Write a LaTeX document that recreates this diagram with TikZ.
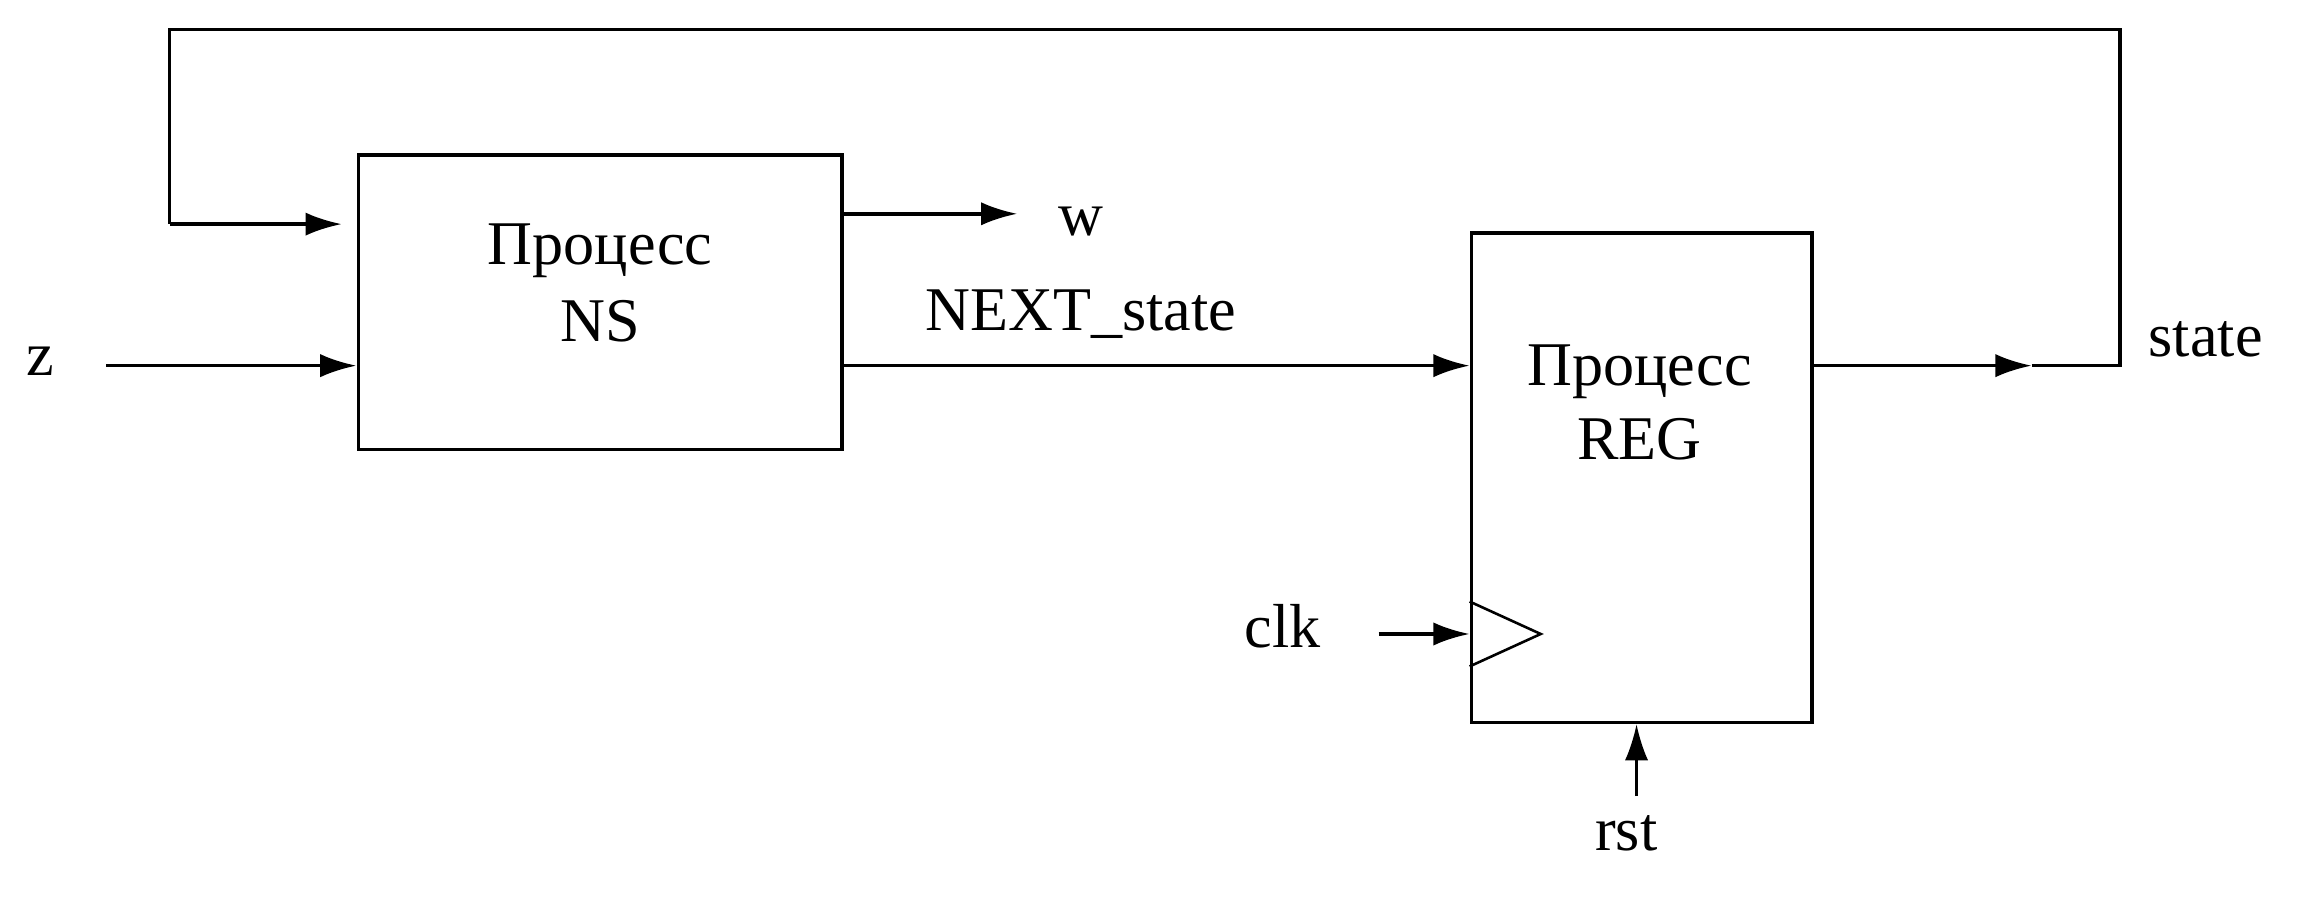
\documentclass[tikz,border=0pt]{standalone}
\usepackage{fontspec}
\setmainfont{Liberation Serif}
\usetikzlibrary{arrows.meta}
\begin{document}
\begin{tikzpicture}[x=0.02cm,y=-0.02cm,line width=1.4pt,>={Latex[length=14pt,width=9pt]},
  box/.style={draw,rectangle,inner sep=0pt},
  lbl/.style={font=\fontsize{24}{29}\selectfont,inner sep=0pt}]
\useasboundingbox (0,0) rectangle (1560,620);
\node[box,minimum width=6.56cm,minimum height=4cm] (ns) at (407,205) {};
\node[box,minimum width=4.62cm,minimum height=6.64cm] (reg) at (1113.5,324) {};
\node[lbl] at (407,170) {Процесс};
\node[lbl] at (407,218) {NS};
\node[lbl] at (1112,252) {Процесс};
\node[lbl] at (1112,298) {REG};
\node[lbl] (z) at (27,245) {z};
\node[lbl] (w) at (733,150) {w};
\node[lbl] (nx) at (733,213) {NEXT\_state};
\node[lbl] (st) at (1496,230) {state};
\node[lbl] (clk) at (870,425) {clk};
\node[lbl] (rst) at (1103,565) {rst};
\coordinate (zs) at (72,248);
\coordinate (ws) at (571,145);
\coordinate (we) at (690,145);
\coordinate (fb1) at (115,152);
\coordinate (fb2) at (115,20);
\coordinate (fb3) at (1438,20);
\coordinate (sm) at (1378,248);
\coordinate (se) at (1438,248);
\coordinate (cs) at (935,430);
\coordinate (rs) at (1110,540);
\draw[->] (zs) -- (zs -| ns.west);
\draw[->] (ws) -- (we);
\draw[->] (ns.east |- 0,248) -- (reg.west |- 0,248);
\draw[->] (reg.east |- 0,248) -- (sm);
\draw (sm) -- (se) -- (fb3) -- (fb2) -- (fb1);
\draw[->] (fb1) -- ([xshift=-0.2cm]ns.west |- fb1);
\draw[->] (cs) -- (reg.west |- cs);
\draw[->,line width=1pt] (rs) -- (rs |- reg.south);
\draw[line width=1pt] (reg.west |- 0,408) -- (1045,430) -- (reg.west |- 0,452);
\end{tikzpicture}
\end{document}
